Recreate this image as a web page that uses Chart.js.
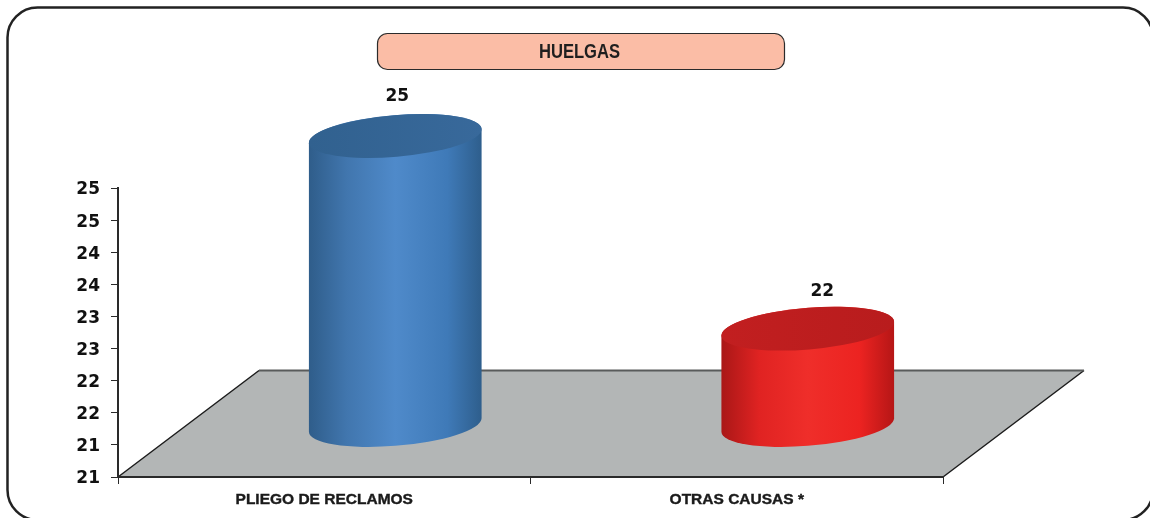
<!DOCTYPE html>
<html>
<head>
<meta charset="utf-8">
<style>
  html, body { margin: 0; padding: 0; background: #fff; overflow: hidden; }
  canvas { display: block; }
</style>
<script src="https://cdn.jsdelivr.net/npm/chart.js@4"></script>
</head>
<body>
<canvas id="huelgasChart" width="1150" height="518"></canvas>
<script>
const chartTitle = 'HUELGAS';
const categories = ['PLIEGO DE RECLAMOS', 'OTRAS CAUSAS *'];
const huelgas = [25, 22];
// the axis prints rounded half steps, that is why the labels repeat
const yTickValues = [20.5, 21, 21.5, 22, 22.5, 23, 23.5, 24, 24.5, 25];
const yTickLabels = ['21', '21', '22', '22', '23', '23', '24', '24', '25', '25'];

const barGradients = [
  ['#2f5d8a', '#4176ae', '#4f8aca', '#3f7ab8', '#2e5e8c'],
  ['#a91717', '#e02322', '#ef2e2a', '#ec2321', '#b51616']
];
const topColors = [
  ['#31618f', '#38699b'],
  ['#c21f20', '#b81c1d']
];
const labelShift = [{ x: 2, y: -39 }, { x: 14.5, y: -37.5 }];

// depth of the floor and where the cylinders stand on it
const floorDepth = { x: 141, y: 106.5 };
const barDepth = { x: 71, y: -52 };
const tilt = 4.8 * Math.PI / 180;
const ellipseRatio = 0.24;

const pseudo3d = {
  id: 'pseudo3d',
  beforeDraw(chart) {
    const { ctx, chartArea: a } = chart;
    ctx.save();

    // outer frame, runs past the right and bottom of the picture
    ctx.beginPath();
    ctx.roundRect(7.5, 7.5, 1145.5, 512.5, 30);
    ctx.lineWidth = 2.5;
    ctx.strokeStyle = '#222';
    ctx.stroke();

    // title box
    ctx.beginPath();
    ctx.roundRect(377.5, 33.5, 407, 36, 10);
    ctx.fillStyle = '#fbbda6';
    ctx.fill();
    ctx.lineWidth = 1.2;
    ctx.strokeStyle = '#2b2b2b';
    ctx.stroke();
    // no narrow face installed, so squeeze the bold one
    ctx.save();
    ctx.translate(579.5, 52);
    ctx.scale(0.83, 1);
    ctx.fillStyle = '#1f1f1f';
    ctx.font = 'bold 20px "Liberation Sans", sans-serif';
    ctx.textAlign = 'center';
    ctx.textBaseline = 'middle';
    ctx.fillText(chartTitle, 0, 0);
    ctx.restore();

    // floor
    const fx = floorDepth.x, fy = floorDepth.y;
    ctx.beginPath();
    ctx.moveTo(a.left, a.bottom);
    ctx.lineTo(a.left + fx, a.bottom - fy);
    ctx.lineTo(a.right + fx, a.bottom - fy);
    ctx.lineTo(a.right, a.bottom);
    ctx.closePath();
    ctx.fillStyle = '#b3b6b6';
    ctx.fill();
    ctx.lineWidth = 1.5;
    ctx.strokeStyle = '#1c1c1c';
    ctx.beginPath();
    ctx.moveTo(a.left, a.bottom);
    ctx.lineTo(a.left + fx, a.bottom - fy);
    ctx.moveTo(a.right, a.bottom);
    ctx.lineTo(a.right + fx, a.bottom - fy);
    ctx.stroke();
    ctx.lineWidth = 2;
    ctx.strokeStyle = '#595b5b';
    ctx.beginPath();
    ctx.moveTo(a.left + fx, a.bottom - fy);
    ctx.lineTo(a.right + fx, a.bottom - fy);
    ctx.stroke();
    ctx.restore();
  },
  afterDatasetsDraw(chart) {
    const { ctx } = chart;
    const meta = chart.getDatasetMeta(0);
    const yScale = chart.scales.y;
    meta.data.forEach((bar, i) => {
      const cx = bar.x + barDepth.x;
      const topY = bar.y + barDepth.y;
      const baseY = yScale.getPixelForValue(yScale.min) + barDepth.y;
      const rx = bar.width / 2;
      const ry = rx * ellipseRatio;
      // angle on the ellipse where its outline is furthest left / right
      const t0 = Math.atan(ellipseRatio * Math.tan(tilt));

      ctx.save();
      const side = ctx.createLinearGradient(cx - rx, 0, cx + rx, 0);
      [0, 0.22, 0.5, 0.8, 1].forEach((s, j) => side.addColorStop(s, barGradients[i][j]));
      ctx.beginPath();
      ctx.ellipse(cx, baseY, rx, ry, -tilt, t0, t0 + Math.PI);
      ctx.ellipse(cx, topY, rx, ry, -tilt, t0 + Math.PI, t0 + 2 * Math.PI);
      ctx.closePath();
      ctx.fillStyle = side;
      ctx.fill();

      const top = ctx.createLinearGradient(cx - rx, 0, cx + rx, 0);
      top.addColorStop(0, topColors[i][0]);
      top.addColorStop(1, topColors[i][1]);
      ctx.beginPath();
      ctx.ellipse(cx, topY, rx, ry, -tilt, 0, 2 * Math.PI);
      ctx.fillStyle = top;
      ctx.fill();

      // value above the cylinder
      ctx.fillStyle = '#111';
      ctx.font = 'bold 17px "DejaVu Sans", sans-serif';
      ctx.textAlign = 'center';
      ctx.textBaseline = 'middle';
      ctx.fillText(String(huelgas[i]), cx + labelShift[i].x, topY + labelShift[i].y);
      ctx.restore();
    });
  }
};

new Chart(document.getElementById('huelgasChart'), {
  type: 'bar',
  data: {
    labels: categories,
    datasets: [{
      data: huelgas,
      backgroundColor: 'transparent',
      barPercentage: 0.42,
      categoryPercentage: 1
    }]
  },
  options: {
    responsive: false,
    animation: false,
    layout: { padding: { top: 188, right: 207, bottom: 0, left: 0 } },
    plugins: {
      legend: { display: false },
      title: { display: false },
      tooltip: { enabled: false }
    },
    scales: {
      x: {
        afterFit(scale) { scale.height = 41; },
        border: { color: '#2a2a2a', width: 2 },
        grid: { drawOnChartArea: false, color: '#2a2a2a', tickLength: 7 },
        ticks: {
          color: '#1a1a1a',
          padding: 6,
          maxRotation: 0,
          textStrokeColor: '#1a1a1a',
          textStrokeWidth: 0.4,
          font: { family: '"Liberation Sans", sans-serif', weight: 'bold', size: 15.5 }
        }
      },
      y: {
        min: 20.5,
        max: 25,
        afterFit(scale) { scale.width = 118; },
        afterBuildTicks(scale) { scale.ticks = yTickValues.map(value => ({ value })); },
        border: { color: '#2a2a2a', width: 2 },
        grid: { drawOnChartArea: false, color: '#2a2a2a', tickLength: 7 },
        ticks: {
          color: '#111',
          padding: 11,
          labelOffset: 2,
          callback: (value, index) => yTickLabels[index],
          font: { family: '"DejaVu Sans", sans-serif', weight: 'bold', size: 17 }
        }
      }
    }
  },
  plugins: [pseudo3d]
});
</script>
</body>
</html>
